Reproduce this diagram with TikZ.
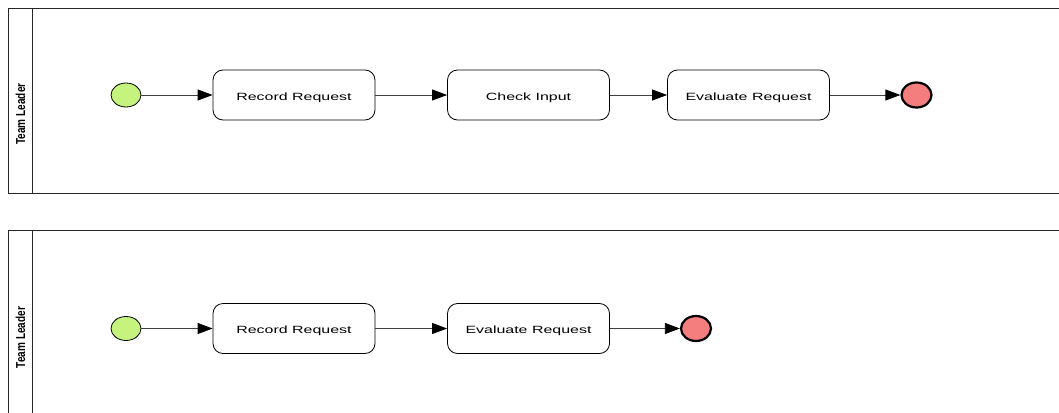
\documentclass[tikz,border=0pt]{standalone}
\usepackage{fontspec}
\setmainfont{Liberation Sans}
\usetikzlibrary{arrows.meta,shapes.geometric}
\definecolor{startfill}{RGB}{198,243,125}
\definecolor{endfill}{RGB}{244,126,126}
\definecolor{poolline}{RGB}{40,40,40}
% widened task caption
\newcommand{\taskcaption}[1]{\scalebox{1.52}[1]{#1}}
\begin{document}
\begin{tikzpicture}[x=1pt,y=-1pt,
  pool/.style={draw=poolline,line width=0.9pt},
  lanelabel/.style={rotate=90,font=\fontsize{13}{13}\selectfont\bfseries,inner sep=0pt},
  startev/.style={ellipse,draw=black,line width=0.8pt,fill=startfill,minimum width=30pt,minimum height=24pt,inner sep=0pt},
  endev/.style={ellipse,draw=black,line width=2.2pt,fill=endfill,minimum width=30pt,minimum height=25pt,inner sep=0pt},
  task/.style={draw=black,line width=0.8pt,rounded corners=10pt,minimum width=162pt,minimum height=50pt,inner sep=0pt,
    text height=10pt,text depth=0pt,font=\fontsize{10.5}{12}\selectfont},
  flow/.style={draw=black!75,line width=0.8pt,-{Triangle[length=15pt,width=11pt,color=black,fill=black]}}
]
\useasboundingbox (0,0) rectangle (1059,412);

% first pool
\draw[pool] (1062,8.5) -- (8.5,8.5) -- (8.5,193) -- (1062,193);
\draw[pool] (32,8.5) -- (32,193);
\node[lanelabel] (lab1) at (20.5,114) {\scalebox{0.77}[1]{Team Leader}};

\node[startev] (s1) at (126,95) {};
\node[task] (r1) at (294,95) {\taskcaption{Record Request}};
\node[task] (c1) at (528.5,95) {\taskcaption{Check Input}};
\node[task] (e1) at (748.5,95) {\taskcaption{Evaluate Request}};
\node[endev] (t1) at (916.5,95) {};

\draw[flow] (s1) -- (r1);
\draw[flow] (r1) -- (c1);
\draw[flow] (c1) -- (e1);
\draw[flow] (e1) -- (t1);

% second pool
\draw[pool] (1062,230) -- (8.5,230) -- (8.5,414);
\draw[pool] (32,230) -- (32,414);
\node[lanelabel] (lab2) at (20.5,337.5) {\scalebox{0.77}[1]{Team Leader}};

\node[startev] (s2) at (126,328.5) {};
\node[task] (r2) at (294,328.5) {\taskcaption{Record Request}};
\node[task] (e2) at (528.5,328.5) {\taskcaption{Evaluate Request}};
\node[endev] (t2) at (696,328.5) {};

\draw[flow] (s2) -- (r2);
\draw[flow] (r2) -- (e2);
\draw[flow] (e2) -- (t2);
\end{tikzpicture}
\end{document}
